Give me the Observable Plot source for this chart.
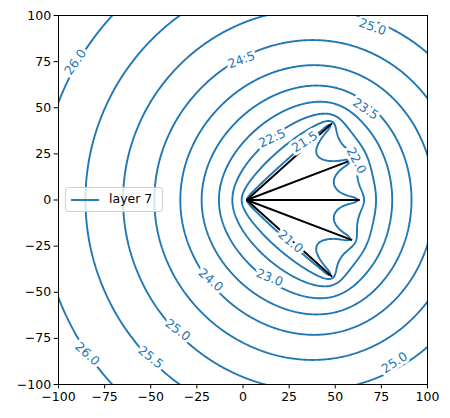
<!DOCTYPE html>
<html><head><meta charset="utf-8">
<script src="https://cdn.jsdelivr.net/npm/d3@7"></script>
<script src="https://cdn.jsdelivr.net/npm/@observablehq/plot@0.6"></script>
<style>
body{margin:0;background:#fff;font-family:"DejaVu Sans",sans-serif;}
#wrap{position:relative;width:450px;height:418px;}
#legend{position:absolute;left:65px;top:187px;width:98px;height:25px;background:rgba(255,255,255,0.8);border:1px solid #d0d0d0;border-radius:3px;box-sizing:border-box;font-size:12.5px;color:#000;}
#legend svg{position:absolute;left:4px;top:10px;}
#legend .tx{position:absolute;left:43px;top:3px;line-height:16px;}
</style></head><body><div id="wrap"></div>
<script>
// ---- data ----
const legendLabel = "layer 7";
const apex = [2, 0];                                   // common start of the well arms
const tipX = [48.3, 59.2, 63.3, 59.2, 48.3];           // arm ends
const tipY = [41.6, 21.7, 0, -21.7, -41.6];
const levels = [21.0, 21.5, 22.0, 22.5, 23.0, 23.5, 24.0, 24.5, 25.0, 25.5, 26.0];
const ticks = [-100, -75, -50, -25, 0, 25, 50, 75, 100];
const farFieldSlope = 2.74;                           // head rise per unit ln(r): 0.5 per ratio 1.2
const nearFieldFactor = 1.0;                          // extra drawdown close to the arms
const nearFieldLength = 5;
const refPoint = {x: -65, y: 0, h: 25.0};             // 25.0 contour crosses y=0 at x≈-65
const labelText  = ["26.0", "24.5", "25.0", "23.5", "22.5", "21.5", "22.0", "21.0", "23.0", "24.0", "25.0", "25.5", "26.0", "25.0"];
const labelX     = [-90.8, -0.8, 70.2, 66.4, 15.8, 33.5, 61.4, 25.7, 14.4, -17.6, -35.4, -50.1, -84.4, 82.1];
const labelY     = [74.8, 75.9, 93.8, 49.3, 33.4, 31.5, 21.3, -22.6, -42.1, -43.4, -70.5, -85.3, -83.5, -88.2];
const labelAngle = [-55, -20, 20, 34, -24, -33, 62, 40, 22, 41, 37, 39, 43, -33];

// ---- head-specified line-sink field for the arms ----
const N = 14;
const pieces = [];
for (let i = 0; i < tipX.length; i++) {
  for (let k = 0; k < N; k++) {
    const a = k / N, b = (k + 1) / N;
    const x0 = apex[0] + (tipX[i] - apex[0]) * a, y0 = apex[1] + (tipY[i] - apex[1]) * a;
    const x1 = apex[0] + (tipX[i] - apex[0]) * b, y1 = apex[1] + (tipY[i] - apex[1]) * b;
    const L = Math.hypot(x1 - x0, y1 - y0);
    pieces.push({x0, y0, x1, y1, ux: (x1 - x0) / L, uy: (y1 - y0) / L, L, mx: (x0 + x1) / 2, my: (y0 + y1) / 2});
  }
}
const gq = [[0.5 - 0.3872983346, 5 / 18], [0.5, 8 / 18], [0.5 + 0.3872983346, 5 / 18]];
const lam2 = nearFieldLength * nearFieldLength;
function F(t, b) {
  const r2 = t * t + b * b;
  let v = r2 > 0 ? 0.5 * t * Math.log(r2) : 0;
  v -= t;
  if (Math.abs(b) > 1e-12) v += b * Math.atan(t / b);
  return v;
}
function infl(p, x, y) {
  const dx = x - p.x0, dy = y - p.y0;
  const a = dx * p.ux + dy * p.uy;
  const b = -dx * p.uy + dy * p.ux;
  const ph = (F(p.L - a, b) - F(-a, b)) / p.L;
  let ch = 0;
  for (const [s, w] of gq) {
    const qx = p.x0 + (p.x1 - p.x0) * s - x, qy = p.y0 + (p.y1 - p.y0) * s - y;
    ch += w * 0.5 * Math.log(qx * qx + qy * qy + lam2);
  }
  return (1 + nearFieldFactor) * ph - nearFieldFactor * ch;
}
const n = pieces.length;
const M = [];
for (let k = 0; k < n; k++) {
  const row = pieces.map(p => infl(p, pieces[k].mx, pieces[k].my));
  row.push(-1, 0);
  M.push(row);
}
{ const row = pieces.map(() => 1); row.push(0, farFieldSlope); M.push(row); }
for (let c = 0; c <= n; c++) {
  let piv = c;
  for (let r = c + 1; r <= n; r++) if (Math.abs(M[r][c]) > Math.abs(M[piv][c])) piv = r;
  [M[c], M[piv]] = [M[piv], M[c]];
  for (let r = 0; r <= n; r++) {
    if (r === c) continue;
    const f = M[r][c] / M[c][c];
    if (f !== 0) for (let j = c; j <= n + 1; j++) M[r][j] -= f * M[c][j];
  }
}
const sigma = pieces.map((_, j) => M[j][n + 1] / M[j][j]);
function raw(x, y) { let s = 0; for (let j = 0; j < n; j++) s += sigma[j] * infl(pieces[j], x, y); return s; }
const h0 = refPoint.h - raw(refPoint.x, refPoint.y);
const head = (x, y) => h0 + raw(x, y);

const arms = tipX.map((x, i) => ({x1: apex[0], y1: apex[1], x2: x, y2: tipY[i]}));
const labels = labelText.map((t, i) => ({text: t, x: labelX[i], y: labelY[i], r: labelAngle[i]}));

const chart = Plot.plot({
  width: 450, height: 418,
  marginLeft: 58, marginRight: 23, marginTop: 15, marginBottom: 34,
  style: {fontFamily: "DejaVu Sans, sans-serif", fontSize: "12.5px", background: "white", color: "black"},
  x: {domain: [-100, 100]},
  y: {domain: [-100, 100]},
  marks: [
    Plot.contour({x1: -104, x2: 104, y1: -104, y2: 104, value: head, thresholds: levels,
      stroke: "#1f77b4", strokeWidth: 1.9, fill: "none", pixelSize: 1, clip: true}),
    Plot.link(arms, {x1: "x1", y1: "y1", x2: "x2", y2: "y2", stroke: "black", strokeWidth: 1.9}),
    Plot.text(labels, {x: "x", y: "y", text: "text", rotate: "r", fill: "#1f77b4", stroke: "white",
      strokeWidth: 6, fontSize: 12.5}),
    Plot.frame({stroke: "black", strokeWidth: 1}),
    Plot.axisX({ticks, tickSize: 4.4, tickPadding: 3, label: null, fontSize: 12.5}),
    Plot.axisY({ticks, tickSize: 4.4, tickPadding: 3, label: null, fontSize: 12.5})
  ]
});
const wrap = document.getElementById("wrap");
wrap.appendChild(chart);
const lg = document.createElement("div");
lg.id = "legend";
lg.innerHTML = `<svg width="30" height="4"><line x1="1" x2="29" y1="2" y2="2" stroke="#1f77b4" stroke-width="1.9"/></svg><div class="tx"></div>`;
lg.querySelector(".tx").textContent = legendLabel;
wrap.appendChild(lg);
</script>
</body></html>
